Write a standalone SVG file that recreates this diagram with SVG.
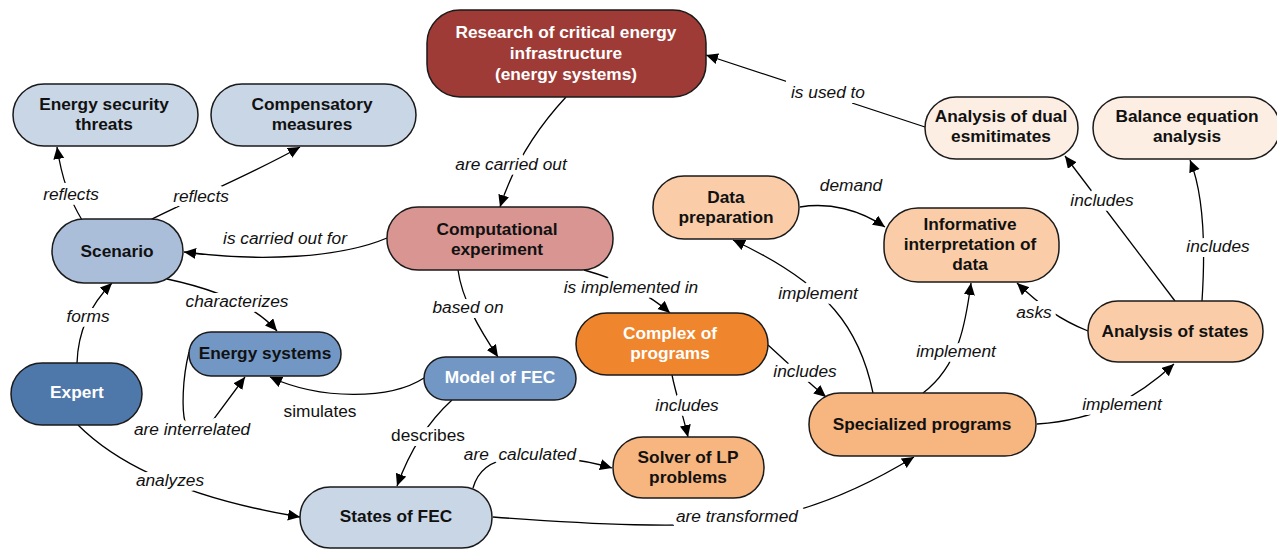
<svg xmlns="http://www.w3.org/2000/svg" width="1277" height="549" viewBox="0 0 1277 549">
<defs>
<marker id="ah" markerUnits="userSpaceOnUse" markerWidth="13" markerHeight="12" refX="12" refY="5.5" orient="auto">
<path d="M0,0 L12,5.5 L0,11 z" fill="#000"/>
</marker>
<style>
.n rect{stroke:#1a1a1a;stroke-width:1.5}
.n text{font-family:"Liberation Sans",Arial,sans-serif;font-size:17.3px;font-weight:bold;text-anchor:middle;fill:#111}
.n text.w{fill:#fff}
#connectors path{fill:none;stroke:#000;stroke-width:1.3;marker-end:url(#ah)}
.lbl{font-family:"Liberation Sans",Arial,sans-serif;font-size:17.3px;font-style:italic;text-anchor:middle;fill:#111;stroke:#fff;stroke-width:10;stroke-linejoin:round;paint-order:stroke}
.lbl.up{font-style:normal}
.bg{fill:#fff}
</style>
</defs>
<rect width="1277" height="549" fill="#fff"/>

<g id="connectors">
<path d="M566,97 C540,125 515,160 500,207"/>
<path d="M925,127 L706,55"/>
<path d="M800,207 C830,202 860,210 885,227"/>
<path d="M873,393 C860,330 830,285 733,240"/>
<path d="M923,393 C960,365 966,320 971,283"/>
<path d="M1088,331 C1060,320 1040,305 1017,283"/>
<path d="M1175,301 L1065,156"/>
<path d="M1202,301 C1206,240 1202,190 1190,160"/>
<path d="M1037,424 C1100,420 1140,395 1174,364"/>
<path d="M768,345 C790,365 808,382 826,397"/>
<path d="M672,375 C676,395 683,415 688,437"/>
<path d="M584,270 C620,280 650,295 670,313"/>
<path d="M458,270 C462,300 480,330 498,357"/>
<path d="M387,238 C340,258 260,262 184,252"/>
<path d="M82,220 C70,200 62,180 57,147"/>
<path d="M148,221 C200,195 250,175 300,147"/>
<path d="M167,279 C200,286 250,300 277,331"/>
<path d="M77,363 C78,330 90,305 112,283"/>
<path d="M189,352 C182,380 182,410 185,422 C190,440 205,432 213,420 L245,377"/>
<path d="M424,378 C390,400 320,400 270,377"/>
<path d="M452,400 C430,420 410,450 397,486"/>
<path d="M473,488 C478,470 492,458 520,458 L560,458 C580,460 595,463 612,468"/>
<path d="M78,425 C115,462 180,497 300,517"/>
<path d="M493,517 C600,525 680,528 740,522 C800,515 860,490 914,457"/>
</g>

<g id="labels">
<rect class="bg" x="786" y="80" width="66" height="25"/>
<rect class="bg" x="674" y="506" width="128" height="23"/>
<text class="lbl" x="511" y="170">are carried out</text>
<text class="lbl" x="828" y="98">is used to</text>
<text class="lbl" x="851" y="191">demand</text>
<text class="lbl" x="818" y="299">implement</text>
<text class="lbl" x="956" y="357">implement</text>
<text class="lbl" x="1034" y="318">asks</text>
<text class="lbl" x="1102" y="206">includes</text>
<text class="lbl" x="1218" y="252">includes</text>
<text class="lbl" x="1122" y="410">implement</text>
<text class="lbl" x="805" y="377">includes</text>
<text class="lbl" x="687" y="411">includes</text>
<text class="lbl" x="631" y="293">is implemented in</text>
<text class="lbl" x="468" y="313">based on</text>
<text class="lbl" x="285" y="244">is carried out for</text>
<text class="lbl" x="71" y="200">reflects</text>
<text class="lbl" x="201" y="202">reflects</text>
<text class="lbl" x="237" y="307">characterizes</text>
<text class="lbl" x="88" y="322">forms</text>
<text class="lbl" x="192" y="435">are interrelated</text>
<text class="lbl up" x="320" y="417">simulates</text>
<text class="lbl up" x="428" y="441">describes</text>
<text class="lbl" x="520" y="460" xml:space="preserve">are  calculated</text>
<text class="lbl" x="170" y="486">analyzes</text>
<text class="lbl" x="737" y="522">are transformed</text>
</g>

<g id="research" class="n"><rect x="427" y="10" width="279" height="87" rx="33" fill="#9E3B36"/>
<text class="w" x="566" y="38">Research of critical energy</text><text class="w" x="566" y="59">infrastructure</text><text class="w" x="566" y="80">(energy systems)</text></g>
<g id="threats" class="n"><rect x="13" y="84" width="185" height="62" rx="31" fill="#C9D6E6"/>
<text x="104" y="110">Energy security</text><text x="104" y="130">threats</text></g>
<g id="compensatory" class="n"><rect x="211" y="84" width="205" height="62" rx="31" fill="#C9D6E6"/>
<text x="312" y="110">Compensatory</text><text x="312" y="130">measures</text></g>
<g id="scenario" class="n"><rect x="52" y="219" width="131" height="64" rx="32" fill="#ABBED9"/>
<text x="117" y="257">Scenario</text></g>
<g id="computational" class="n"><rect x="387" y="207" width="226" height="63" rx="31" fill="#D99591"/>
<text x="497" y="235">Computational</text><text x="497" y="255">experiment</text></g>
<g id="dataprep" class="n"><rect x="653" y="176" width="146" height="63" rx="31" fill="#FACDA8"/>
<text x="726" y="203">Data</text><text x="726" y="223">preparation</text></g>
<g id="informative" class="n"><rect x="884" y="208" width="175" height="74" rx="34" fill="#FACDA8"/>
<text x="970" y="230">Informative</text><text x="970" y="250">interpretation of</text><text x="970" y="270">data</text></g>
<g id="dual" class="n"><rect x="925" y="97" width="153" height="62" rx="31" fill="#FDEEE3"/>
<text x="1001" y="122">Analysis of dual</text><text x="1001" y="142">esmitimates</text></g>
<g id="balance" class="n"><rect x="1093" y="97" width="187" height="62" rx="31" fill="#FDEEE3"/>
<text x="1187" y="122">Balance equation</text><text x="1187" y="142">analysis</text></g>
<g id="states-analysis" class="n"><rect x="1088" y="301" width="175" height="61" rx="30" fill="#FACDA8"/>
<text x="1175" y="337">Analysis of states</text></g>
<g id="specialized" class="n"><rect x="809" y="393" width="227" height="63" rx="31" fill="#F7B57F"/>
<text x="922" y="430">Specialized programs</text></g>
<g id="complex" class="n"><rect x="576" y="313" width="192" height="62" rx="31" fill="#EF852C"/>
<text class="w" x="670" y="339">Complex of</text><text class="w" x="670" y="359">programs</text></g>
<g id="solver" class="n"><rect x="613" y="437" width="151" height="61" rx="30" fill="#F7B57F"/>
<text x="688" y="463">Solver of LP</text><text x="688" y="483">problems</text></g>
<g id="model" class="n"><rect x="424" y="357" width="152" height="43" rx="21.5" fill="#7397C5"/>
<text class="w" x="500" y="383">Model of FEC</text></g>
<g id="energy-systems" class="n"><rect x="189" y="332" width="152" height="44" rx="22" fill="#7397C5"/>
<text x="265" y="359">Energy systems</text></g>
<g id="expert" class="n"><rect x="11" y="363" width="131" height="62" rx="31" fill="#4E77AA"/>
<text class="w" x="77" y="398">Expert</text></g>
<g id="states-fec" class="n"><rect x="300" y="487" width="192" height="61" rx="30" fill="#C9D6E6"/>
<text x="396" y="522">States of FEC</text></g>
</svg>
